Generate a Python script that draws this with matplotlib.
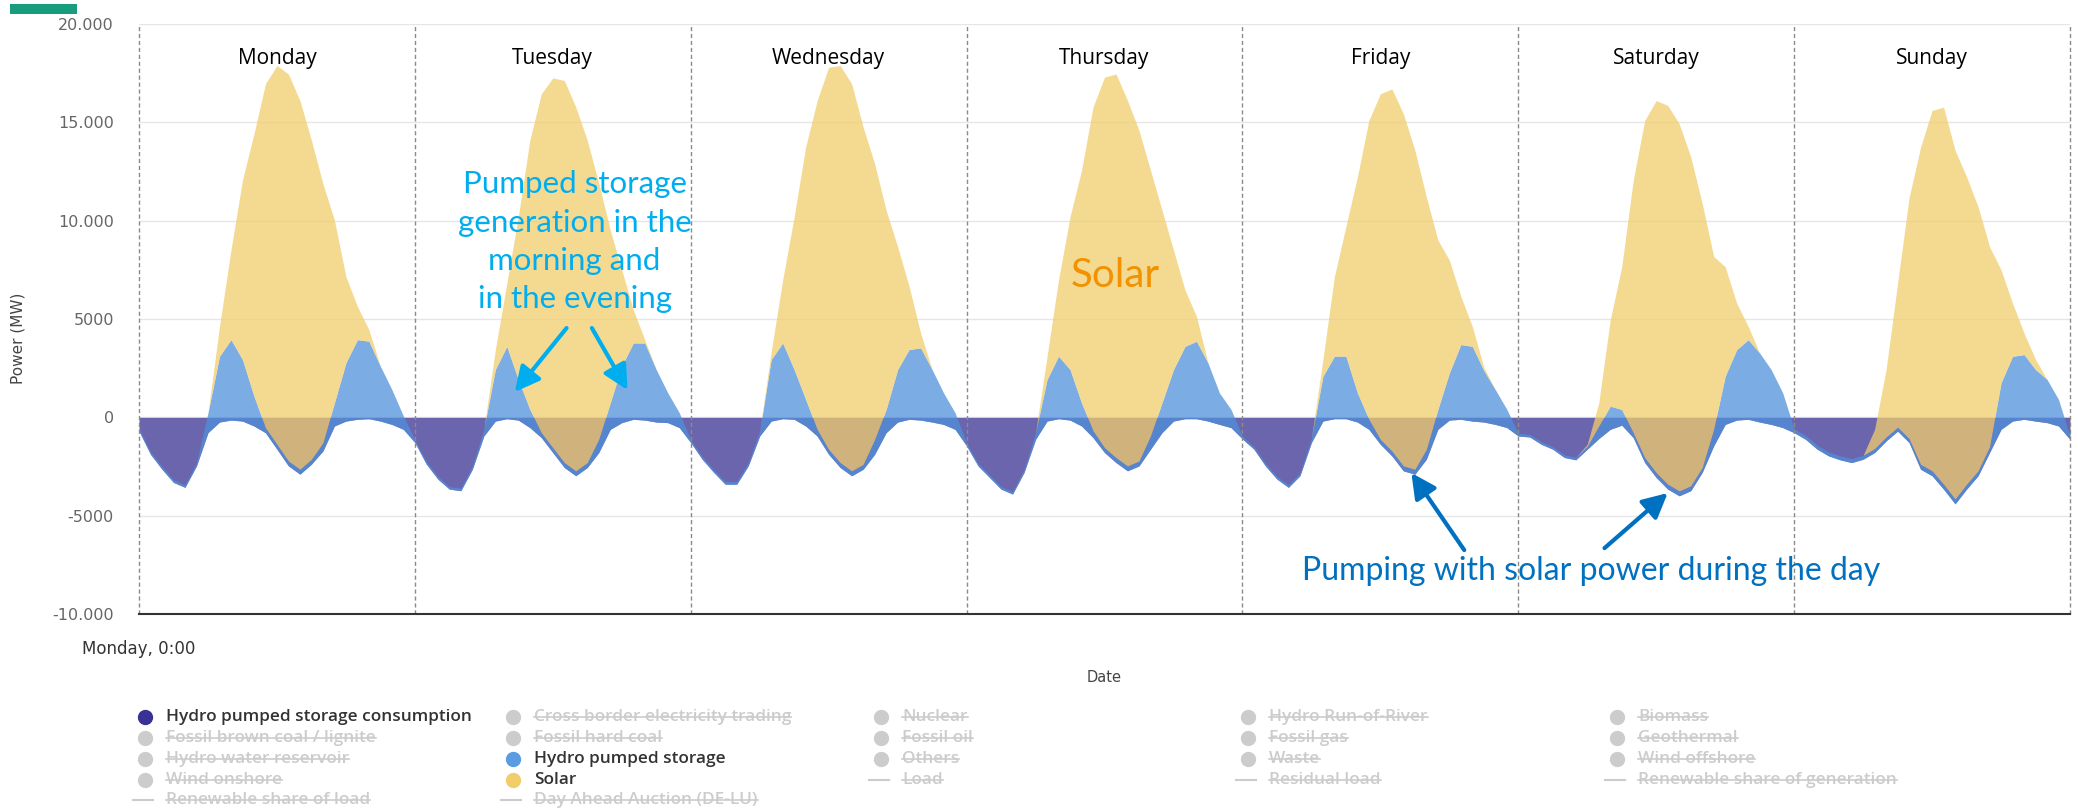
import numpy as np
import matplotlib
matplotlib.use("Agg")
import matplotlib.pyplot as plt
from matplotlib.lines import Line2D
from matplotlib.patches import Rectangle

# ---------------- data (hourly, Monday 0:00 .. Sunday 24:00) ----------------
day_names = ["Monday", "Tuesday", "Wednesday", "Thursday", "Friday", "Saturday", "Sunday"]

consumption_mw = [
    -700, -1880, -2640, -3310, -3560, -2470, -780, -240, -140, -190, -440, -780,
    -1620, -2470, -2890, -2380, -1710, -440, -190, -100, -70, -190, -360, -610,
    -1280, -2380, -3140, -3650, -3730, -2640, -950, -190, -70, -140, -520, -1030,
    -1790, -2550, -2970, -2550, -1790, -610, -270, -100, -140, -240, -270, -520,
    -1280, -2130, -2800, -3400, -3400, -2470, -950, -190, -70, -100, -440, -950,
    -1880, -2550, -2970, -2640, -1880, -780, -240, -100, -140, -240, -360, -610,
    -1450, -2470, -3060, -3650, -3900, -2800, -1120, -190, -70, -140, -440, -1030,
    -1790, -2300, -2720, -2470, -1620, -780, -190, -70, -70, -190, -360, -520,
    -1100, -1620, -2470, -3140, -3560, -2970, -1280, -190, -70, -70, -240, -610,
    -1370, -1960, -2720, -2890, -2130, -610, -140, -100, -190, -240, -360, -520,
    -950, -1000, -1370, -1620, -2040, -2160, -1620, -1080, -610, -400, -1030, -2300,
    -3060, -3650, -3990, -3730, -2800, -1450, -360, -140, -100, -240, -360, -520,
    -780, -1120, -1620, -1960, -2160, -2300, -2130, -1790, -1200, -700, -1280, -2640,
    -2970, -3650, -4400, -3650, -2970, -1790, -610, -190, -100, -190, -270, -440,
    -1120,
]

pumped_generation_mw = [
    130, 130, 130, 130, 130, 150, 1010, 3340, 4090, 3130, 1520, 250,
    250, 250, 250, 250, 420, 1180, 2960, 4050, 3940, 2790, 1770, 680,
    130, 130, 130, 130, 130, 150, 340, 2620, 3680, 2060, 930, 250,
    250, 250, 250, 250, 680, 1350, 2870, 3880, 3920, 2670, 1520, 760,
    130, 130, 130, 130, 130, 150, 250, 3130, 3850, 2530, 1350, 340,
    250, 250, 250, 250, 760, 1180, 2670, 3550, 3670, 2670, 1600, 840,
    130, 130, 130, 130, 130, 150, 340, 2110, 3180, 2570, 1180, 350,
    250, 250, 250, 250, 680, 1520, 2620, 3680, 3940, 2960, 1600, 930,
    130, 130, 130, 130, 130, 150, 200, 2280, 3180, 3180, 1490, 510,
    250, 250, 250, 250, 500, 1010, 2400, 3800, 3800, 2620, 1770, 930,
    130, 130, 130, 130, 130, 130, 150, 640, 1180, 800, 250, 250,
    250, 250, 250, 250, 250, 850, 2450, 3580, 4050, 3510, 2790, 1770,
    200, 200, 200, 200, 200, 200, 200, 200, 200, 200, 200, 250,
    250, 250, 250, 250, 250, 300, 2370, 3290, 3290, 2620, 2200, 1350,
    150,
]

solar_mw = [
    0, 0, 0, 0, 0, 0, 0, 1520, 4560, 9120, 13340, 17490,
    19260, 19680, 18750, 16220, 13170, 9290, 4390, 1690, 590, 0, 0, 0,
    0, 0, 0, 0, 0, 0, 0, 1010, 3210, 8280, 13680, 17230,
    18800, 19430, 18500, 16390, 13010, 8780, 4900, 1690, 170, 0, 0, 0,
    0, 0, 0, 0, 0, 0, 0, 400, 3210, 7770, 12840, 16720,
    19430, 20190, 19680, 17150, 14020, 10130, 6250, 3210, 760, 0, 0, 0,
    0, 0, 0, 0, 0, 0, 0, 1180, 3890, 7770, 11820, 16460,
    18840, 19510, 18580, 16810, 13510, 9800, 6080, 2870, 1270, 0, 0, 0,
    0, 0, 0, 0, 0, 0, 0, 850, 4050, 6590, 10980, 15200,
    17570, 18410, 17910, 16220, 12840, 8620, 5740, 2450, 1010, 170, 0, 0,
    0, 0, 0, 0, 0, 0, 100, 1180, 4390, 7260, 12840, 17150,
    18920, 19260, 18670, 16730, 13430, 8780, 5570, 2360, 680, 0, 0, 0,
    0, 0, 0, 0, 0, 0, 0, 980, 3430, 7320, 12250, 16130,
    18330, 19170, 17730, 15630, 13430, 10170, 5740, 2700, 1100, 510, 0, 0,
    0,
]

y_ticks = [-10000, -5000, 0, 5000, 10000, 15000, 20000]
y_tick_labels = ["-10.000", "-5000", "0", "5000", "10.000", "15.000", "20.000"]
x_tick_label = "Monday, 0:00"

legend_items = [
    "Hydro pumped storage consumption", "Cross border electricity trading", "Nuclear",
    "Hydro Run-of-River", "Biomass",
    "Fossil brown coal / lignite", "Fossil hard coal", "Fossil oil", "Fossil gas", "Geothermal",
    "Hydro water reservoir", "Hydro pumped storage", "Others", "Waste", "Wind offshore",
    "Wind onshore", "Solar", "Load", "Residual load", "Renewable share of generation",
    "Renewable share of load", "Day Ahead Auction (DE-LU)",
]
line_items = ["Load", "Residual load", "Renewable share of generation",
              "Renewable share of load", "Day Ahead Auction (DE-LU)"]

# ---------------- style ----------------
PURPLE = "#393193"
BLUE = "#5091DB"
YELLOW = "#F1CD6C"
W, H = 2078, 808


def fx(x):
    return x / W


def fy(y):
    return 1 - y / H


fig = plt.figure(figsize=(W / 100, H / 100), dpi=100)
fig.patch.set_facecolor("white")
ax = fig.add_axes([fx(139), fy(614), 1931 / W, 590 / H])

hours = np.arange(len(consumption_mw))
c = np.array(consumption_mw, dtype=float)
g = np.array(pumped_generation_mw, dtype=float)
s = np.array(solar_mw, dtype=float)
level1 = c
level2 = c + g
level3 = c + g + s

ax.fill_between(hours, 0, level1, color=PURPLE, alpha=0.75, lw=0, zorder=1)
ax.fill_between(hours, level1, level2, color=BLUE, alpha=0.75, lw=0, zorder=2)
ax.fill_between(hours, level2, level3, color=YELLOW, alpha=0.75, lw=0, zorder=3)

ax.set_xlim(0, len(day_names) * 24)
ax.set_ylim(-10000, 20000)
ax.set_yticks(y_ticks)
ax.set_yticklabels(y_tick_labels)
ax.yaxis.grid(True, color="#e6e6e6", lw=1)
ax.set_axisbelow(True)
ax.set_xticks([0])
ax.set_xticklabels([x_tick_label])
ax.tick_params(axis="y", length=0, pad=18, labelsize=11.5, labelcolor="#666666")
ax.tick_params(axis="x", length=0, pad=19, labelsize=12, labelcolor="#333333")
for side in ["top", "left", "right"]:
    ax.spines[side].set_visible(False)
ax.spines["bottom"].set_color("#333333")
ax.spines["bottom"].set_linewidth(1.5)
ax.spines["bottom"].set_zorder(6)

# day separators and day names
for d in range(len(day_names) + 1):
    ax.axvline(24 * d, color="#8a8a8a", lw=1, ls=(0, (3, 2)), zorder=5, clip_on=False)
for d, name in enumerate(day_names):
    ax.text(24 * d + 12, 0.932, name, transform=ax.get_xaxis_transform(),
            ha="center", va="baseline", fontsize=15, family="Open Sans", color="#000000",
            zorder=7)

ax.set_ylabel("Power (MW)", fontsize=11, color="#444444")
ax.yaxis.set_label_coords((18 - 139) / 1931, (614 - 338) / 590)
ax.yaxis.label.set_va("center")
ax.set_xlabel("Date", fontsize=10.5, color="#444444")
ax.xaxis.set_label_coords(0.5, (614 - 677) / 590)
ax.xaxis.label.set_va("center")

# ---------------- annotations ----------------
CYAN = "#00AEEF"
ORANGE = "#F39200"
DBLUE = "#0070C0"
ann_font = "Lato"
cyan_lines = ["Pumped storage", "generation in the", "morning and", "in the evening"]
cyan_baselines = [11405, 9422, 7490, 5558]
for line, yb in zip(cyan_lines, cyan_baselines):
    ax.text(37.9, yb, line, ha="center", va="baseline", fontsize=22.5, color=CYAN,
            family=ann_font, zorder=8)

arrow_kw = dict(arrowstyle="-|>,head_length=0.75,head_width=0.38", lw=3,
                mutation_scale=20, shrinkA=0, shrinkB=0)
ax.annotate("", xy=(32.7, 1290), xytext=(37.2, 4540),
            arrowprops=dict(color=CYAN, **arrow_kw), zorder=8)
ax.annotate("", xy=(42.5, 1390), xytext=(39.4, 4540),
            arrowprops=dict(color=CYAN, **arrow_kw), zorder=8)

ax.text(84.9, 6626, "Solar", ha="center", va="baseline", fontsize=29, color=ORANGE,
        family=ann_font, zorder=8)

ax.text(126.3, -8273, "Pumping with solar power during the day", ha="center",
        va="baseline", fontsize=23, color=DBLUE, family=ann_font, zorder=8)
ax.annotate("", xy=(110.7, -2830), xytext=(115.3, -6750),
            arrowprops=dict(color=DBLUE, **arrow_kw), zorder=8)
ax.annotate("", xy=(133.0, -3850), xytext=(127.5, -6650),
            arrowprops=dict(color=DBLUE, **arrow_kw), zorder=8)

# ---------------- green bar (top left) ----------------
fig.add_artist(Rectangle((fx(10), fy(14)), 67 / W, 10 / H, transform=fig.transFigure,
                         color="#179C7D", lw=0))

# ---------------- legend ----------------
active_colors = {"Hydro pumped storage consumption": PURPLE,
                 "Hydro pumped storage": "#5A9BE2", "Solar": "#F2CE6A"}
col_marker_x = [145, 513, 881, 1248, 1617]
row_y = [717, 738, 759, 780, 800]
renderer = fig.canvas.get_renderer()
for i, label in enumerate(legend_items):
    row, col = divmod(i, 5)
    mx, my = col_marker_x[col], row_y[row]
    active = label in active_colors
    tcolor = "#333333" if active else "#cccccc"
    if label in line_items:
        fig.add_artist(Line2D([fx(mx - 12), fx(mx + 8)], [fy(my), fy(my)],
                              transform=fig.transFigure, color="#cccccc", lw=1.5))
    else:
        mcol = active_colors.get(label, "#cccccc")
        fig.add_artist(Line2D([fx(mx)], [fy(my)], transform=fig.transFigure, marker="o",
                              ms=10, mfc=mcol, mec=mcol, ls="none"))
    t = fig.text(fx(mx + 21), fy(my), label, ha="left", va="center", fontsize=12.4,
                 color=tcolor, family="Open Sans", fontweight="semibold")
    if not active:
        bb = t.get_window_extent(renderer=renderer)
        ymid = (bb.y0 + bb.y1) / 2 / fig.dpi / fig.get_figheight()
        fig.add_artist(Line2D([bb.x0 / (fig.dpi * fig.get_figwidth()),
                               bb.x1 / (fig.dpi * fig.get_figwidth())], [ymid, ymid],
                              transform=fig.transFigure, color="#cccccc", lw=1.2))

fig.savefig("out.png", dpi=100, facecolor="white")
